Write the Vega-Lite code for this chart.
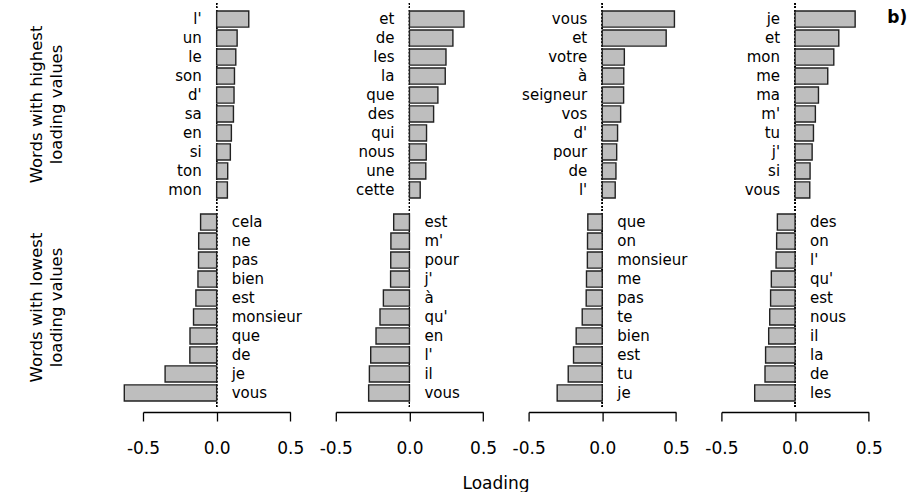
{
  "$schema": "https://vega.github.io/schema/vega-lite/v6.json",
  "padding": {"left": 28, "top": 2, "right": 0, "bottom": 0},
  "config": {
    "view": {"stroke": null},
    "font": "DejaVu Sans",
    "title": {"font": "DejaVu Sans"}
  },
  "title": {"text": "b)", "anchor": "end", "fontSize": 17, "fontWeight": "bold", "color": "black", "dy": 28, "dx": 25},
  "data": {"values": [
    {"comp": 1, "part": "top", "word": "l'", "value": 0.218},
    {"comp": 1, "part": "top", "word": "un", "value": 0.139},
    {"comp": 1, "part": "top", "word": "le", "value": 0.130},
    {"comp": 1, "part": "top", "word": "son", "value": 0.121},
    {"comp": 1, "part": "top", "word": "d'", "value": 0.118},
    {"comp": 1, "part": "top", "word": "sa", "value": 0.114},
    {"comp": 1, "part": "top", "word": "en", "value": 0.100},
    {"comp": 1, "part": "top", "word": "si", "value": 0.093},
    {"comp": 1, "part": "top", "word": "ton", "value": 0.075},
    {"comp": 1, "part": "top", "word": "mon", "value": 0.073},
    {"comp": 1, "part": "bottom", "word": "cela", "value": -0.109},
    {"comp": 1, "part": "bottom", "word": "ne", "value": -0.122},
    {"comp": 1, "part": "bottom", "word": "pas", "value": -0.123},
    {"comp": 1, "part": "bottom", "word": "bien", "value": -0.127},
    {"comp": 1, "part": "bottom", "word": "est", "value": -0.141},
    {"comp": 1, "part": "bottom", "word": "monsieur", "value": -0.157},
    {"comp": 1, "part": "bottom", "word": "que", "value": -0.181},
    {"comp": 1, "part": "bottom", "word": "de", "value": -0.182},
    {"comp": 1, "part": "bottom", "word": "je", "value": -0.350},
    {"comp": 1, "part": "bottom", "word": "vous", "value": -0.627},
    {"comp": 2, "part": "top", "word": "et", "value": 0.370},
    {"comp": 2, "part": "top", "word": "de", "value": 0.295},
    {"comp": 2, "part": "top", "word": "les", "value": 0.248},
    {"comp": 2, "part": "top", "word": "la", "value": 0.243},
    {"comp": 2, "part": "top", "word": "que", "value": 0.193},
    {"comp": 2, "part": "top", "word": "des", "value": 0.164},
    {"comp": 2, "part": "top", "word": "qui", "value": 0.116},
    {"comp": 2, "part": "top", "word": "nous", "value": 0.114},
    {"comp": 2, "part": "top", "word": "une", "value": 0.111},
    {"comp": 2, "part": "top", "word": "cette", "value": 0.073},
    {"comp": 2, "part": "bottom", "word": "est", "value": -0.107},
    {"comp": 2, "part": "bottom", "word": "m'", "value": -0.126},
    {"comp": 2, "part": "bottom", "word": "pour", "value": -0.127},
    {"comp": 2, "part": "bottom", "word": "j'", "value": -0.128},
    {"comp": 2, "part": "bottom", "word": "à", "value": -0.177},
    {"comp": 2, "part": "bottom", "word": "qu'", "value": -0.200},
    {"comp": 2, "part": "bottom", "word": "en", "value": -0.227},
    {"comp": 2, "part": "bottom", "word": "l'", "value": -0.263},
    {"comp": 2, "part": "bottom", "word": "il", "value": -0.272},
    {"comp": 2, "part": "bottom", "word": "vous", "value": -0.277},
    {"comp": 3, "part": "top", "word": "vous", "value": 0.490},
    {"comp": 3, "part": "top", "word": "et", "value": 0.434},
    {"comp": 3, "part": "top", "word": "votre", "value": 0.150},
    {"comp": 3, "part": "top", "word": "à", "value": 0.146},
    {"comp": 3, "part": "top", "word": "seigneur", "value": 0.145},
    {"comp": 3, "part": "top", "word": "vos", "value": 0.125},
    {"comp": 3, "part": "top", "word": "d'", "value": 0.104},
    {"comp": 3, "part": "top", "word": "pour", "value": 0.098},
    {"comp": 3, "part": "top", "word": "de", "value": 0.093},
    {"comp": 3, "part": "top", "word": "l'", "value": 0.088},
    {"comp": 3, "part": "bottom", "word": "que", "value": -0.098},
    {"comp": 3, "part": "bottom", "word": "on", "value": -0.100},
    {"comp": 3, "part": "bottom", "word": "monsieur", "value": -0.101},
    {"comp": 3, "part": "bottom", "word": "me", "value": -0.107},
    {"comp": 3, "part": "bottom", "word": "pas", "value": -0.109},
    {"comp": 3, "part": "bottom", "word": "te", "value": -0.136},
    {"comp": 3, "part": "bottom", "word": "bien", "value": -0.177},
    {"comp": 3, "part": "bottom", "word": "est", "value": -0.195},
    {"comp": 3, "part": "bottom", "word": "tu", "value": -0.231},
    {"comp": 3, "part": "bottom", "word": "je", "value": -0.306},
    {"comp": 4, "part": "top", "word": "je", "value": 0.408},
    {"comp": 4, "part": "top", "word": "et", "value": 0.297},
    {"comp": 4, "part": "top", "word": "mon", "value": 0.263},
    {"comp": 4, "part": "top", "word": "me", "value": 0.222},
    {"comp": 4, "part": "top", "word": "ma", "value": 0.159},
    {"comp": 4, "part": "top", "word": "m'", "value": 0.138},
    {"comp": 4, "part": "top", "word": "tu", "value": 0.125},
    {"comp": 4, "part": "top", "word": "j'", "value": 0.116},
    {"comp": 4, "part": "top", "word": "si", "value": 0.102},
    {"comp": 4, "part": "top", "word": "vous", "value": 0.100},
    {"comp": 4, "part": "bottom", "word": "des", "value": -0.120},
    {"comp": 4, "part": "bottom", "word": "on", "value": -0.125},
    {"comp": 4, "part": "bottom", "word": "l'", "value": -0.129},
    {"comp": 4, "part": "bottom", "word": "qu'", "value": -0.161},
    {"comp": 4, "part": "bottom", "word": "est", "value": -0.166},
    {"comp": 4, "part": "bottom", "word": "nous", "value": -0.172},
    {"comp": 4, "part": "bottom", "word": "il", "value": -0.179},
    {"comp": 4, "part": "bottom", "word": "la", "value": -0.200},
    {"comp": 4, "part": "bottom", "word": "de", "value": -0.204},
    {"comp": 4, "part": "bottom", "word": "les", "value": -0.274}
  ]},
  "facet": {
    "row": {
      "field": "part", "type": "nominal", "sort": ["top", "bottom"],
      "header": {
        "title": null,
        "labelExpr": "datum.value == 'top' ? ['Words with highest', 'loading values'] : ['Words with lowest', 'loading values']",
        "labelAngle": -90,
        "labelFont": "DejaVu Sans",
        "labelFontSize": 16.5,
        "labelColor": "black",
        "labelLineHeight": 20,
        "labelPadding": 69.7
      }
    },
    "column": {
      "field": "comp", "type": "ordinal",
      "header": {"title": "Loading", "titleOrient": "bottom", "labels": false, "titleFont": "DejaVu Sans",
                 "titleFontSize": 17, "titleFontWeight": "normal", "titleColor": "black", "titlePadding": 10}
    }
  },
  "spacing": {"row": 0, "column": 44.8},
  "bounds": "flush",
  "resolve": {"scale": {"y": "independent"}},
  "spec": {
    "width": 147.3,
    "height": 203,
    "layer": [
      {
        "mark": {"type": "rule", "strokeDash": [1.5, 2], "color": "black", "strokeWidth": 1},
        "encoding": {"x": {"datum": 0}}
      },
      {
        "mark": {"type": "bar", "fill": "#bebebe", "stroke": "#222222", "strokeWidth": 1.4},
        "encoding": {
          "y": {"field": "word", "type": "nominal", "sort": {"field": "value", "order": "descending"}, "axis": null,
                "scale": {"paddingInner": 0.15, "paddingOuter": 0.42}},
          "x": {
            "field": "value", "type": "quantitative",
            "scale": {"domain": [-0.5, 0.5], "nice": false},
            "axis": {
              "values": [-0.5, 0, 0.5], "title": null, "grid": false,
              "labelExpr": "datum.value < 0 ? '-' + format(-datum.value, '.1f') : format(datum.value, '.1f')",
              "labelFlush": false, "labelOverlap": false,
              "domainColor": "black", "tickColor": "black", "domainWidth": 1.3, "tickWidth": 1.3,
              "tickSize": 9, "offset": 3, "labelFontSize": 17, "labelColor": "black", "labelPadding": 19,
              "labelFont": "DejaVu Sans"
            }
          }
        }
      },
      {
        "mark": {"type": "text", "align": "right", "baseline": "middle", "dx": -15, "fontSize": 15, "font": "DejaVu Sans", "color": "black"},
        "encoding": {
          "y": {"field": "word", "type": "nominal", "sort": {"field": "value", "order": "descending"}},
          "x": {"datum": 0},
          "text": {"condition": {"test": "datum.part == 'top'", "field": "word"}, "value": ""}
        }
      },
      {
        "mark": {"type": "text", "align": "left", "baseline": "middle", "dx": 15, "fontSize": 15, "font": "DejaVu Sans", "color": "black"},
        "encoding": {
          "y": {"field": "word", "type": "nominal", "sort": {"field": "value", "order": "descending"}},
          "x": {"datum": 0},
          "text": {"condition": {"test": "datum.part == 'bottom'", "field": "word"}, "value": ""}
        }
      }
    ]
  }
}
